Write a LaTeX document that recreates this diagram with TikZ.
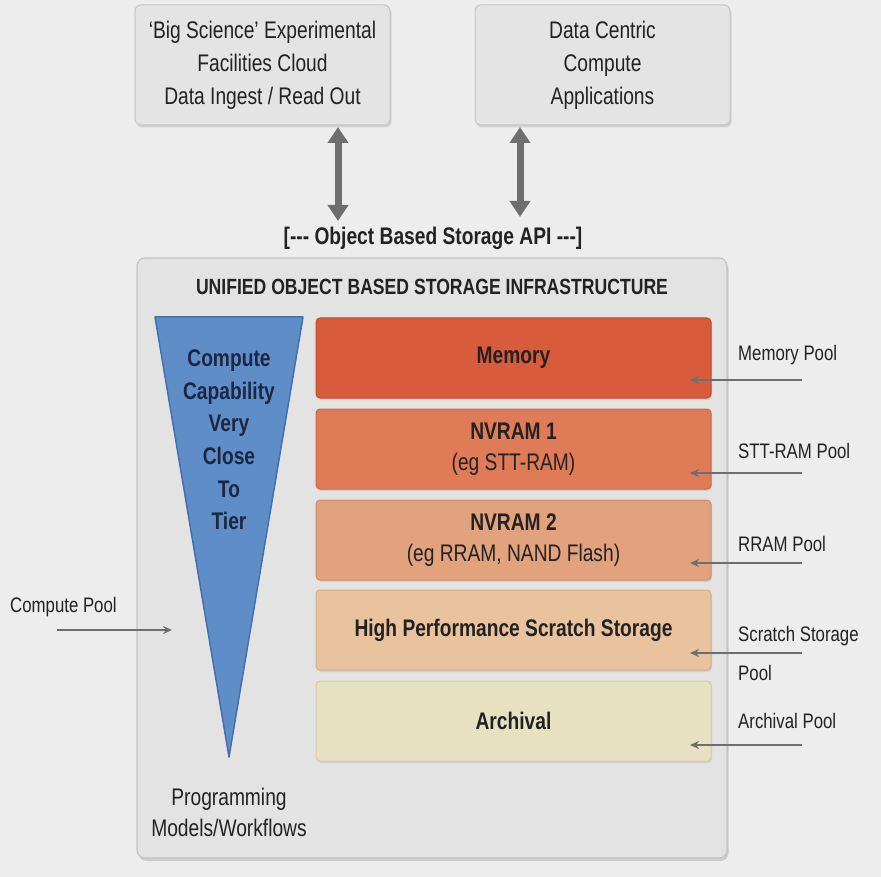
\documentclass[tikz,border=0pt]{standalone}
\usepackage{fontspec}
\setmainfont{Liberation Sans}[FakeStretch=0.80]
\usetikzlibrary{arrows.meta,shadows}
\definecolor{bg}{HTML}{EDEDED}
\definecolor{boxfill}{HTML}{E4E4E4}
\definecolor{boxline}{HTML}{C4C4C4}
\definecolor{bigfill}{HTML}{E3E3E3}
\definecolor{arrowgray}{HTML}{6E6E6E}
\definecolor{txt}{HTML}{222222}
\definecolor{memfill}{HTML}{D85B3C}
\definecolor{memline}{HTML}{C24C31}
\definecolor{nv1fill}{HTML}{E07B58}
\definecolor{nv1line}{HTML}{CC6A48}
\definecolor{nv2fill}{HTML}{E2A27D}
\definecolor{nv2line}{HTML}{CF8F6B}
\definecolor{scrfill}{HTML}{E9C29E}
\definecolor{scrline}{HTML}{D6AE8A}
\definecolor{arcfill}{HTML}{E6E1C1}
\definecolor{arcline}{HTML}{D2CCAA}
\definecolor{trifill}{HTML}{5E8DC8}
\definecolor{triline}{HTML}{4670A8}
\definecolor{tritxt}{HTML}{1B2740}
\begin{document}
\begin{tikzpicture}[x=1pt,y=-1pt,
  topbox/.style={draw=boxline,fill=boxfill,rounded corners=6pt,line width=1pt,
    minimum width=255pt,minimum height=120pt,align=center,font=\fontsize{24}{33}\selectfont,text=txt,
    drop shadow={opacity=0.25,shadow xshift=1.5pt,shadow yshift=-2.5pt}},
  bigbox/.style={draw=boxline,fill=bigfill,rounded corners=8pt,line width=1.2pt,
    drop shadow={opacity=0.3,shadow xshift=1.5pt,shadow yshift=-3pt}},
  tier/.style={rounded corners=4pt,line width=1pt,minimum width=395pt,minimum height=80pt,
    align=center,font=\bfseries\fontsize{24}{31}\selectfont,text=txt,
    drop shadow={opacity=0.2,shadow xshift=1pt,shadow yshift=-2pt}},
  bigarrow/.style={draw=arrowgray,line width=7pt,{Triangle[width=20pt,length=16pt]}-{Triangle[width=20pt,length=16pt]}},
  poolarrow/.style={draw=arrowgray,line width=1.6pt,-{Stealth[length=9pt,width=8pt]}},
  lbl/.style={font=\fontsize{21}{39}\selectfont,text=txt,align=left,anchor=west,inner sep=0pt}
]
\useasboundingbox[fill=bg] (0,0) rectangle (881,877);

% top boxes
\node[topbox] (bigsci) at (262.5,65) {`Big Science' Experimental\\Facilities Cloud\\Data Ingest / Read Out};
\node[topbox] (dcc) at (602.5,65) {Data Centric\\Compute\\Applications};

% API label
\node[font=\bfseries\fontsize{24}{28}\selectfont,text=txt] (api) at (433,238) {[-{}-{}- Object Based Storage API -{}-{}-]};

% arrows
\coordinate (a1top) at (338,127);
\coordinate (a1bot) at (338,221);
\coordinate (a2top) at (520,127);
\coordinate (a2bot) at (520,217);
\draw[bigarrow] (a1top) -- (a1bot);
\draw[bigarrow] (a2top) -- (a2bot);

% big box
\draw[bigbox] (137,258) rectangle (727,858);
\node[font=\bfseries\fontsize{22}{26}\selectfont,text=txt] (title) at (432,287) {UNIFIED OBJECT BASED STORAGE INFRASTRUCTURE};

% triangle
\coordinate (tl) at (155,317);
\coordinate (tr) at (303,317);
\coordinate (tb) at (229,757);
\draw[fill=trifill,draw=triline,line width=1.5pt,line join=round] (tl) -- (tr) -- (tb) -- cycle;
\node[font=\bfseries\fontsize{24}{32.6}\selectfont,text=tritxt,align=center] (tritext) at (229,440)
  {Compute\\Capability\\Very\\Close\\To\\Tier};

% tiers
\node[tier,fill=memfill,draw=memline] (mem) at (513.5,358) {Memory};
\node[tier,fill=nv1fill,draw=nv1line] (nv1) at (513.5,449) {NVRAM 1\\\mdseries(eg STT-RAM)};
\node[tier,fill=nv2fill,draw=nv2line] (nv2) at (513.5,540) {NVRAM 2\\\mdseries(eg RRAM, NAND Flash)};
\node[tier,fill=scrfill,draw=scrline] (scr) at (513.5,630) {High Performance Scratch Storage};
\node[tier,fill=arcfill,draw=arcline] (arc) at (513.5,721) {Archival};

% right labels
\node[lbl] (mempool) at (738,355) {Memory Pool};
\node[lbl] (sttpool) at (738,451) {STT-RAM Pool};
\node[lbl] (rrampool) at (738,544) {RRAM Pool};
\node[lbl,align=left] (scrpool) at (738,653) {Scratch Storage\\Pool};
\node[lbl] (arcpool) at (738,721) {Archival Pool};

\coordinate (m1) at (802,380); \coordinate (m2) at (690,380);
\coordinate (s1) at (802,473); \coordinate (s2) at (690,473);
\coordinate (r1) at (802,563); \coordinate (r2) at (690,563);
\coordinate (c1) at (802,653); \coordinate (c2) at (690,653);
\coordinate (v1) at (802,745); \coordinate (v2) at (690,745);
\draw[poolarrow] (m1) -- (m2);
\draw[poolarrow] (s1) -- (s2);
\draw[poolarrow] (r1) -- (r2);
\draw[poolarrow] (c1) -- (c2);
\draw[poolarrow] (v1) -- (v2);

% left label
\node[lbl] (cpool) at (10,607) {Compute Pool};
\coordinate (cp1) at (57,630); \coordinate (cp2) at (172,630);
\draw[poolarrow] (cp1) -- (cp2);

% bottom label
\node[font=\fontsize{24}{31}\selectfont,text=txt,align=center] (prog) at (229,812) {Programming\\Models/Workflows};
\end{tikzpicture}
\end{document}
